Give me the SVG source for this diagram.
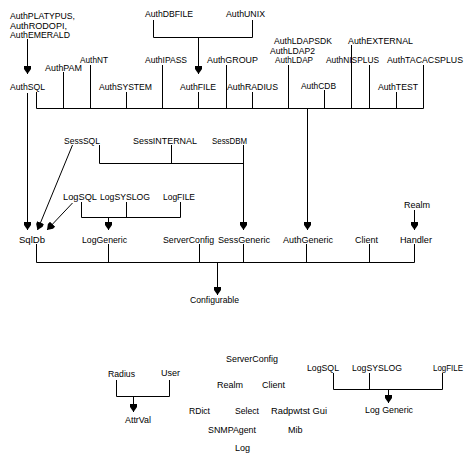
<svg xmlns="http://www.w3.org/2000/svg" width="469" height="459" viewBox="0 0 469 459">
<style>
text{font-family:"Liberation Sans",Arial,sans-serif;font-size:9px;fill:#000}
.c line,.c polyline{stroke:#000;stroke-width:1;fill:none}
.a{marker-end:url(#arr)}
</style>
<defs>
<marker id="arr" viewBox="-8 -4 9 8" refX="0" refY="0" markerWidth="9" markerHeight="8" markerUnits="userSpaceOnUse" orient="auto">
<path d="M0,0 L-5,-3.5 L-8,-3.5 L-8,3.5 L-5,3.5 Z" fill="#000"/>
</marker>
</defs>
<rect width="469" height="459" fill="#fff"/>
<g class="c" id="connectors">
<line class="a" x1="27.5" y1="39" x2="27.5" y2="74"/>
<polyline points="153.5,20 153.5,37.5 252.5,37.5 252.5,20"/>
<line class="a" x1="198.5" y1="37.5" x2="198.5" y2="74"/>
<line x1="36.5" y1="108.5" x2="423.5" y2="108.5"/>
<line x1="36.5" y1="92" x2="36.5" y2="108.5"/>
<line x1="63.5" y1="72" x2="63.5" y2="108.5"/>
<line x1="90.5" y1="65" x2="90.5" y2="108.5"/>
<line x1="126.5" y1="92" x2="126.5" y2="108.5"/>
<line x1="162.5" y1="65" x2="162.5" y2="108.5"/>
<line x1="198.5" y1="92" x2="198.5" y2="108.5"/>
<line x1="226.5" y1="65" x2="226.5" y2="108.5"/>
<line x1="252.5" y1="92" x2="252.5" y2="108.5"/>
<line x1="288.5" y1="65" x2="288.5" y2="108.5"/>
<line x1="324.5" y1="90" x2="324.5" y2="108.5"/>
<line x1="351.5" y1="45" x2="351.5" y2="108.5"/>
<line x1="369.5" y1="65" x2="369.5" y2="108.5"/>
<line x1="396.5" y1="92" x2="396.5" y2="108.5"/>
<line x1="423.5" y1="65" x2="423.5" y2="108.5"/>
<line class="a" x1="307.5" y1="108.5" x2="307.5" y2="230"/>
<line class="a" x1="27.5" y1="93" x2="27.5" y2="230"/>
<polyline points="99.5,145 99.5,163.5 243.5,163.5"/>
<line x1="171.5" y1="145" x2="171.5" y2="163.5"/>
<line class="a" x1="243.5" y1="145" x2="243.5" y2="230"/>
<line class="a" x1="72.5" y1="145" x2="37.5" y2="230"/>
<polyline points="81.5,202 81.5,217.5 180.5,217.5 180.5,202"/>
<line x1="126.5" y1="202" x2="126.5" y2="217.5"/>
<line class="a" x1="108.5" y1="217.5" x2="108.5" y2="230"/>
<line class="a" x1="72.5" y1="203" x2="47" y2="230"/>
<line class="a" x1="414.5" y1="210" x2="414.5" y2="230"/>
<line x1="36.5" y1="262.5" x2="414.5" y2="262.5"/>
<line x1="36.5" y1="244" x2="36.5" y2="262.5"/>
<line x1="108.5" y1="244" x2="108.5" y2="262.5"/>
<line x1="199.5" y1="244" x2="199.5" y2="262.5"/>
<line x1="243.5" y1="244" x2="243.5" y2="262.5"/>
<line x1="306.5" y1="244" x2="306.5" y2="262.5"/>
<line x1="369.5" y1="244" x2="369.5" y2="262.5"/>
<line x1="414.5" y1="244" x2="414.5" y2="262.5"/>
<line class="a" x1="217.5" y1="262.5" x2="217.5" y2="295"/>
<polyline points="116.5,380 116.5,396.5 169.5,396.5 169.5,380"/>
<line class="a" x1="133.5" y1="396.5" x2="133.5" y2="412"/>
<polyline points="333.5,373 333.5,389.5 442.5,389.5 442.5,373"/>
<line x1="369.5" y1="373" x2="369.5" y2="389.5"/>
<line class="a" x1="388.5" y1="389.5" x2="388.5" y2="403"/>
</g>
<g id="AuthPLATYPUS"><text x="10" y="18.5" textLength="65" lengthAdjust="spacingAndGlyphs">AuthPLATYPUS,</text><text x="10" y="28.5" textLength="57" lengthAdjust="spacingAndGlyphs">AuthRODOPI,</text><text x="10" y="37.5" textLength="60" lengthAdjust="spacingAndGlyphs">AuthEMERALD</text></g>
<g id="AuthDBFILE"><text x="145" y="16.5" textLength="48" lengthAdjust="spacingAndGlyphs">AuthDBFILE</text></g>
<g id="AuthUNIX"><text x="226" y="16.5" textLength="39" lengthAdjust="spacingAndGlyphs">AuthUNIX</text></g>
<g id="AuthSQL"><text x="10" y="90" textLength="35" lengthAdjust="spacingAndGlyphs">AuthSQL</text></g>
<g id="AuthPAM"><text x="45" y="70.5" textLength="37" lengthAdjust="spacingAndGlyphs">AuthPAM</text></g>
<g id="AuthNT"><text x="80" y="63" textLength="28" lengthAdjust="spacingAndGlyphs">AuthNT</text></g>
<g id="AuthSYSTEM"><text x="99" y="90" textLength="53" lengthAdjust="spacingAndGlyphs">AuthSYSTEM</text></g>
<g id="AuthIPASS"><text x="145" y="63" textLength="42" lengthAdjust="spacingAndGlyphs">AuthIPASS</text></g>
<g id="AuthFILE"><text x="180" y="90" textLength="36" lengthAdjust="spacingAndGlyphs">AuthFILE</text></g>
<g id="AuthGROUP"><text x="207" y="63" textLength="51" lengthAdjust="spacingAndGlyphs">AuthGROUP</text></g>
<g id="AuthRADIUS"><text x="227" y="90" textLength="51" lengthAdjust="spacingAndGlyphs">AuthRADIUS</text></g>
<g id="AuthLDAP"><text x="274" y="43.5" textLength="58" lengthAdjust="spacingAndGlyphs">AuthLDAPSDK</text><text x="270" y="53.5" textLength="45" lengthAdjust="spacingAndGlyphs">AuthLDAP2</text><text x="275" y="63" textLength="38" lengthAdjust="spacingAndGlyphs">AuthLDAP</text></g>
<g id="AuthCDB"><text x="301" y="88.5" textLength="35" lengthAdjust="spacingAndGlyphs">AuthCDB</text></g>
<g id="AuthEXTERNAL"><text x="348" y="43.5" textLength="65" lengthAdjust="spacingAndGlyphs">AuthEXTERNAL</text></g>
<g id="AuthNISPLUS"><text x="326" y="63" textLength="53" lengthAdjust="spacingAndGlyphs">AuthNISPLUS</text></g>
<g id="AuthTACACSPLUS"><text x="387" y="63" textLength="76" lengthAdjust="spacingAndGlyphs">AuthTACACSPLUS</text></g>
<g id="AuthTEST"><text x="378" y="90" textLength="40" lengthAdjust="spacingAndGlyphs">AuthTEST</text></g>
<g id="SessSQL"><text x="64" y="143.5" textLength="36" lengthAdjust="spacingAndGlyphs">SessSQL</text></g>
<g id="SessINTERNAL"><text x="133" y="143.5" textLength="64" lengthAdjust="spacingAndGlyphs">SessINTERNAL</text></g>
<g id="SessDBM"><text x="212" y="143.5" textLength="35" lengthAdjust="spacingAndGlyphs">SessDBM</text></g>
<g id="LogSQL"><text x="63" y="200" textLength="34" lengthAdjust="spacingAndGlyphs">LogSQL</text></g>
<g id="LogSYSLOG"><text x="100" y="200" textLength="50" lengthAdjust="spacingAndGlyphs">LogSYSLOG</text></g>
<g id="LogFILE"><text x="163" y="200" textLength="32" lengthAdjust="spacingAndGlyphs">LogFILE</text></g>
<g id="Realm"><text x="404" y="208">Realm</text></g>
<g id="SqlDb"><text x="19" y="242.5" textLength="26" lengthAdjust="spacingAndGlyphs">SqlDb</text></g>
<g id="LogGeneric"><text x="82" y="242.5" textLength="45" lengthAdjust="spacingAndGlyphs">LogGeneric</text></g>
<g id="ServerConfig"><text x="163" y="242.5" textLength="51" lengthAdjust="spacingAndGlyphs">ServerConfig</text></g>
<g id="SessGeneric"><text x="218" y="242.5" textLength="52" lengthAdjust="spacingAndGlyphs">SessGeneric</text></g>
<g id="AuthGeneric"><text x="283" y="242.5" textLength="50" lengthAdjust="spacingAndGlyphs">AuthGeneric</text></g>
<g id="Client"><text x="355" y="242.5">Client</text></g>
<g id="Handler"><text x="400" y="242.5" textLength="32" lengthAdjust="spacingAndGlyphs">Handler</text></g>
<g id="Configurable"><text x="190" y="303" textLength="49" lengthAdjust="spacingAndGlyphs">Configurable</text></g>
<g id="Radius"><text x="108" y="377" textLength="27" lengthAdjust="spacingAndGlyphs">Radius</text></g>
<g id="User"><text x="161" y="376">User</text></g>
<g id="AttrVal"><text x="125" y="423" textLength="26" lengthAdjust="spacingAndGlyphs">AttrVal</text></g>
<g id="ServerConfig2"><text x="226" y="362" textLength="52" lengthAdjust="spacingAndGlyphs">ServerConfig</text></g>
<g id="Realm2"><text x="217" y="388">Realm</text></g>
<g id="Client2"><text x="262" y="388">Client</text></g>
<g id="RDict"><text x="189" y="414" textLength="21" lengthAdjust="spacingAndGlyphs">RDict</text></g>
<g id="Select"><text x="235" y="414" textLength="24" lengthAdjust="spacingAndGlyphs">Select</text></g>
<g id="RadpwtstGui"><text x="271" y="414" textLength="56" lengthAdjust="spacingAndGlyphs">Radpwtst Gui</text></g>
<g id="SNMPAgent"><text x="208" y="433" textLength="48" lengthAdjust="spacingAndGlyphs">SNMPAgent</text></g>
<g id="Mib"><text x="288" y="433">Mib</text></g>
<g id="Log"><text x="235" y="451">Log</text></g>
<g id="LogSQL2"><text x="307" y="371" textLength="32" lengthAdjust="spacingAndGlyphs">LogSQL</text></g>
<g id="LogSYSLOG2"><text x="352" y="371" textLength="50" lengthAdjust="spacingAndGlyphs">LogSYSLOG</text></g>
<g id="LogFILE2"><text x="433" y="371" textLength="30" lengthAdjust="spacingAndGlyphs">LogFILE</text></g>
<g id="LogGeneric2"><text x="365" y="413" textLength="48" lengthAdjust="spacingAndGlyphs">Log Generic</text></g>
</svg>
